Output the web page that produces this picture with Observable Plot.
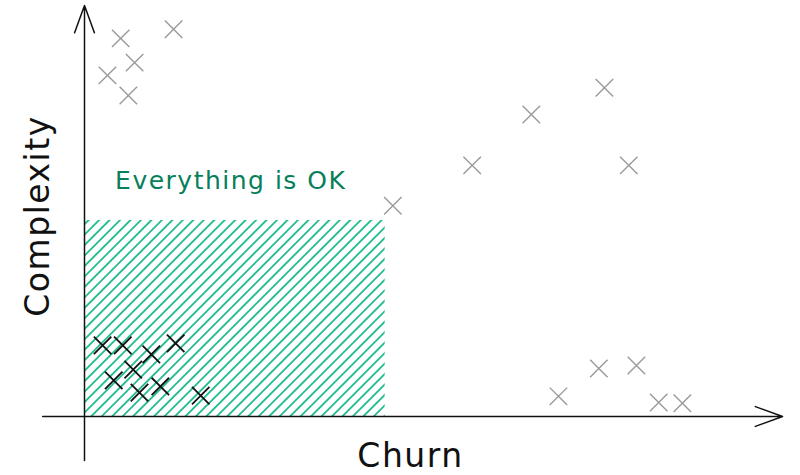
<!DOCTYPE html>
<html>
<head>
<meta charset="utf-8">
<script src="https://cdn.jsdelivr.net/npm/d3@7"></script>
<script src="https://cdn.jsdelivr.net/npm/@observablehq/plot@0.6"></script>
<style>
  body { margin: 0; background: #fff; }
  #chart svg { display: block; }
  #chart svg .label text { letter-spacing: 1.5px; }
  #chart svg .zone-label text { letter-spacing: 1.5px; }
</style>
</head>
<body>
<div id="chart"></div>
<script>
// Files far from the OK zone (gray crosses)
const grayChurn      = [5.2, 12.8, 7.2, 3.3, 6.3, 44.3, 55.7, 64.2, 74.7, 78.2, 68.1, 73.9, 79.3, 82.5, 85.9];
const grayComplexity = [92.0, 94.2, 86.1, 83.0, 78.1, 51.3, 61.1, 73.5, 80.0, 61.1, 4.9, 11.7, 12.4, 3.4, 3.2];

// Files inside the OK zone (black crosses)
const okChurn      = [2.6, 5.5, 13.1, 9.6, 7.0, 4.2, 10.9, 7.9, 16.7];
const okComplexity = [17.3, 17.3, 17.8, 15.1, 11.4, 8.8, 7.3, 5.8, 5.1];

// The hatched "everything is OK" zone and its label
const zoneChurn = [0, 43.2];
const zoneComplexity = [0, 47.7];
const zoneLabel = ["Everything is OK"];
const labelChurn = [4.4];
const labelComplexity = [57.2];

// Axis arrows (start and end of each axis, in data units)
const axisLines = [
  {x1: -6, y1: 0, x2: 100.3, y2: 0},
  {x1: 0, y1: -10.7, x2: 0, y2: 100}
];

const gray = grayChurn.map((c, i) => ({churn: c, complexity: grayComplexity[i]}));
const ok = okChurn.map((c, i) => ({churn: c, complexity: okComplexity[i]}));
const zone = [{x1: zoneChurn[0], x2: zoneChurn[1], y1: zoneComplexity[0], y2: zoneComplexity[1]}];

// SVG pattern for the diagonal hatch, lines rising to the right ("/")
const hatchDefs = () => {
  const defs = d3.create("svg:defs");
  defs.append("pattern")
      .attr("id", "hatch")
      .attr("patternUnits", "userSpaceOnUse")
      .attr("width", 7.4)
      .attr("height", 7.4)
      .attr("patternTransform", "rotate(45)")
    .append("line")
      .attr("x1", 3.7).attr("y1", 0)
      .attr("x2", 3.7).attr("y2", 7.4)
      .attr("stroke", "#12b886")
      .attr("stroke-width", 1.7);
  return defs.node();
};

const font = "'DejaVu Sans', sans-serif";

const chart = Plot.plot({
  width: 800,
  height: 475,
  marginLeft: 84,
  marginRight: 20,
  marginTop: 5,
  marginBottom: 59,
  x: {domain: [0, 100], axis: null},
  y: {domain: [0, 100], axis: null},
  style: {background: "#fff", fontFamily: font},
  marks: [
    hatchDefs,
    Plot.rect(zone, {x1: "x1", x2: "x2", y1: "y1", y2: "y2", fill: "url(#hatch)"}),
    Plot.arrow(axisLines, {
      x1: "x1", y1: "y1", x2: "x2", y2: "y2",
      stroke: "#111", strokeWidth: 1.5, headLength: 29, headAngle: 40
    }),
    Plot.dot(gray, {x: "churn", y: "complexity", symbol: "times", r: 8, stroke: "#9a9a9a", strokeWidth: 1.4}),
    Plot.dot(ok, {x: "churn", y: "complexity", symbol: "times", r: 8, stroke: "#111", strokeWidth: 1.8}),
    Plot.text(zoneLabel, {
      x: () => labelChurn[0], y: () => labelComplexity[0], text: d => d,
      textAnchor: "start", fill: "#087f5b", fontSize: 25, className: "zone-label"
    }),
    Plot.text(["Churn"], {
      frameAnchor: "bottom", text: d => d, dx: -22, dy: 40,
      textAnchor: "middle", lineAnchor: "middle",
      fontSize: 33, fill: "#111", className: "label"
    }),
    Plot.text(["Complexity"], {
      frameAnchor: "left", text: d => d, dx: -46, dy: 5, rotate: -90,
      textAnchor: "middle", lineAnchor: "middle",
      fontSize: 33, fill: "#111", className: "label"
    })
  ]
});

d3.select("#chart").append(() => chart);
</script>
</body>
</html>
